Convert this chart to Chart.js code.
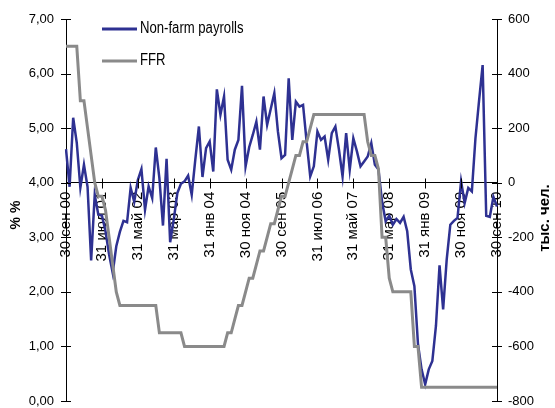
<!DOCTYPE html>
<html>
<head>
<meta charset="utf-8">
<script src="https://cdn.jsdelivr.net/npm/chart.js@4.4.0/dist/chart.umd.min.js"></script>
<style>
  body { margin: 0; background: #fff; }
  #chartPayrolls { display: block; }
</style>
</head>
<body>
<canvas id="chartPayrolls" width="555" height="408"></canvas>
<script>
//месяцы: сен 2000 - сен 2010 (последний день месяца)
const monthNames = ['янв', 'фев', 'мар', 'апр', 'май', 'июн', 'июл', 'авг', 'сен', 'окт', 'ноя', 'дек'];
const months = [];
for (let i = 0; i < 121; i++) {
  const y = 2000 + Math.floor((8 + i) / 12);
  const m = (8 + i) % 12;
  const day = new Date(y, m + 1, 0).getDate();
  months.push(`${day} ${monthNames[m]} ${String(y).slice(2)}`);
}

//non-farm payrolls, тыс. чел. (изменение за месяц)
const payrolls = [
  123, -15, 238, 146, -18, 66, -15, -285, -44, -117,
  -120, -178, -263, -330, -233, -180, -140, -145, -19, -70,
  10, 50, -99, -13, -56, 129, 17, -157, 88, -218,
  -135, -38, -4, 5, 26, -44, 85, 206, 21, 127,
  151, 41, 342, 249, 316, 84, 48, 121, 157, 355,
  60, 130, 175, 224, 121, 316, 212, 270, 328, 188,
  90, 102, 383, 157, 297, 279, 285, 150, 23, 60,
  188, 157, 169, 84, 182, 206, 121, 23, 182, 48,
  163, 115, 60, 78, 96, 145, 66, 48, -70, -141,
  -121, -154, -133, -147, -125, -178, -318, -379, -592, -684,
  -739, -684, -653, -525, -303, -464, -281, -154, -140, -129,
  5, -74, -19, -32, 163, 300, 431, -121, -125, -52,
  -87
];

//ставка FFR, %
const ffr = [
  6.5, 6.5, 6.5, 6.5, 5.5, 5.5, 5.0, 4.5, 4.0, 3.75,
  3.75, 3.5, 3.0, 2.5, 2.0, 1.75, 1.75, 1.75, 1.75, 1.75,
  1.75, 1.75, 1.75, 1.75, 1.75, 1.75, 1.25, 1.25, 1.25, 1.25,
  1.25, 1.25, 1.25, 1.0, 1.0, 1.0, 1.0, 1.0, 1.0, 1.0,
  1.0, 1.0, 1.0, 1.0, 1.0, 1.25, 1.25, 1.5, 1.75, 1.75,
  2.0, 2.25, 2.25, 2.5, 2.75, 2.75, 3.0, 3.25, 3.25, 3.5,
  3.75, 3.75, 4.0, 4.25, 4.5, 4.5, 4.75, 4.75, 5.0, 5.25,
  5.25, 5.25, 5.25, 5.25, 5.25, 5.25, 5.25, 5.25, 5.25, 5.25,
  5.25, 5.25, 5.25, 5.25, 4.75, 4.5, 4.5, 4.25, 3.0, 3.0,
  2.25, 2.0, 2.0, 2.0, 2.0, 2.0, 2.0, 1.0, 1.0, 0.25,
  0.25, 0.25, 0.25, 0.25, 0.25, 0.25, 0.25, 0.25, 0.25, 0.25,
  0.25, 0.25, 0.25, 0.25, 0.25, 0.25, 0.25, 0.25, 0.25, 0.25,
  0.25
];

const seriesNames = ['Non-farm payrolls', 'FFR'];
const seriesColors = ['#2e3192', '#8a8a8a'];
const axisTitles = ['% %', 'тыс. чел.'];

const tickFont = { family: 'Liberation Sans, Arial, sans-serif', size: 13 };

//фиксированные размеры осей, без автоподбора отступов
const fitAxis = (width) => (scale) => {
  if (width) scale.width = width;
  scale.paddingLeft = 0;
  scale.paddingRight = 0;
  scale.paddingTop = 0;
  scale.paddingBottom = 0;
};

//засечки поперёк осей, подписи осей и легенда
const decor = {
  id: 'decor',
  afterDraw(chart) {
    const { ctx, chartArea, scales } = chart;
    const xs = scales.x, yl = scales.y, yr = scales.y2;
    const zero = Math.round(yr.getPixelForValue(0)) + 0.5;
    ctx.save();
    ctx.strokeStyle = '#000';
    ctx.lineWidth = 1;
    ctx.beginPath();
    xs.ticks.forEach((t, i) => {
      if (i % 10 !== 0) return;
      const px = Math.round(xs.getPixelForTick(i)) + 0.5;
      ctx.moveTo(px, zero - 5);
      ctx.lineTo(px, zero + 5);
    });
    yl.ticks.forEach((t, i) => {
      const py = Math.round(yl.getPixelForTick(i)) + 0.5;
      ctx.moveTo(chartArea.left - 5, py);
      ctx.lineTo(chartArea.left + 5, py);
    });
    yr.ticks.forEach((t, i) => {
      const py = Math.round(yr.getPixelForTick(i)) + 0.5;
      ctx.moveTo(chartArea.right - 5, py);
      ctx.lineTo(chartArea.right + 5, py);
    });
    ctx.stroke();

    //подписи осей (снизу вверх)
    ctx.fillStyle = '#000';
    ctx.font = 'bold 14px Liberation Sans, Arial, sans-serif';
    ctx.textAlign = 'center';
    ctx.textBaseline = 'middle';
    ctx.save();
    ctx.translate(16, 215);
    ctx.rotate(-Math.PI / 2);
    ctx.fillText(axisTitles[0], 0, 0);
    ctx.restore();
    ctx.save();
    ctx.translate(545, 218);
    ctx.rotate(-Math.PI / 2);
    ctx.font = 'bold 15px Liberation Sans, Arial, sans-serif';
    ctx.fillText(axisTitles[1], 0, 0);
    ctx.restore();

    //легенда (узкий шрифт через сжатие по горизонтали)
    ctx.font = '16px Liberation Sans, Arial, sans-serif';
    ctx.textAlign = 'left';
    const legendY = [29, 61];
    seriesNames.forEach((name, i) => {
      ctx.strokeStyle = seriesColors[i];
      ctx.lineWidth = 3;
      ctx.beginPath();
      ctx.moveTo(102, legendY[i]);
      ctx.lineTo(137, legendY[i]);
      ctx.stroke();
      ctx.save();
      ctx.translate(140, legendY[i]);
      ctx.scale(0.82, 1);
      ctx.fillText(name, 0, 0);
      ctx.restore();
    });
    ctx.restore();
  }
};

const ctx = document.getElementById('chartPayrolls');
const chartPayrolls = new Chart(ctx, {
  type: 'line',
  data: {
    labels: months,
    datasets: [{
      label: seriesNames[0],
      data: payrolls,
      yAxisID: 'y2',
      borderColor: seriesColors[0],
      borderWidth: 2.5,
      pointRadius: 0,
      tension: 0,
      order: 2
    }, {
      label: seriesNames[1],
      data: ffr,
      yAxisID: 'y',
      borderColor: seriesColors[1],
      borderWidth: 3,
      pointRadius: 0,
      tension: 0,
      order: 1
    }]
  },
  options: {
    responsive: false,
    animation: false,
    layout: {
      padding: { top: 19, bottom: 7, left: 0, right: 0 }
    },
    scales: {
      x: {
        position: { y2: 0 },
        offset: false,
        afterFit: fitAxis(0),
        grid: { display: false, drawTicks: true, tickLength: 5 },
        border: { display: true, color: '#000', width: 1 },
        ticks: {
          autoSkip: false,
          minRotation: 90,
          maxRotation: 90,
          padding: 4,
          color: '#000',
          font: { family: 'Liberation Sans, Arial, sans-serif', size: 15 },
          callback: (v, i) => i % 10 === 0 ? months[i] : ''
        }
      },
      y: {
        position: 'left',
        min: 0,
        max: 7,
        afterFit: fitAxis(66),
        grid: { display: false, drawTicks: true, tickLength: 5 },
        border: { display: true, color: '#000', width: 1 },
        ticks: {
          stepSize: 1,
          padding: 7,
          color: '#000',
          font: tickFont,
          callback: (v) => v.toFixed(2).replace('.', ',')
        }
      },
      y2: {
        position: 'right',
        min: -800,
        max: 600,
        afterFit: fitAxis(58),
        grid: { display: false, drawTicks: true, tickLength: 5 },
        border: { display: true, color: '#000', width: 1 },
        ticks: {
          stepSize: 200,
          padding: 6,
          color: '#000',
          font: tickFont
        }
      }
    },
    plugins: {
      legend: { display: false },
      tooltip: { enabled: false }
    }
  },
  plugins: [decor]
});
</script>
</body>
</html>
